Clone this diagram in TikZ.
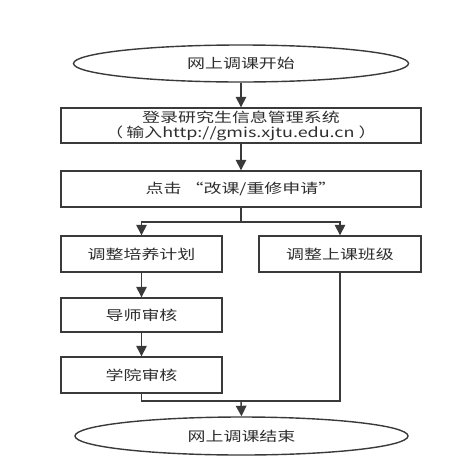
\documentclass[tikz,border=0pt]{standalone}
\usepackage{fontspec}
\setmainfont[FakeStretch=1.33]{Noto Sans CJK SC}
\usetikzlibrary{shapes.geometric,arrows.meta}
\definecolor{ln}{HTML}{3A3A3A}
\definecolor{tx}{HTML}{2E2E2E}
\tikzset{
  base/.style={draw=ln, line width=1.4pt, text=tx, inner sep=0pt, font=\fontsize{13.5pt}{15pt}\selectfont, align=center},
  term/.style={base, ellipse},
  stepbox/.style={base, rectangle},
  conn/.style={draw=ln, line width=1.4pt},
  arr/.style={conn, -{Triangle[width=10.5pt,length=10.5pt]}},
}
\begin{document}
\begin{tikzpicture}[x=1pt,y=-1pt]
\useasboundingbox (0,0) rectangle (473,472);
\node[term, minimum width=335pt, minimum height=37pt] (start) at (241,63.5) {网上调课开始};
\node[stepbox, minimum width=360pt, minimum height=35pt] (login) at (241,125.5) {登录研究生信息管理系统\\（\hspace{3pt}输入http://gmis.xjtu.edu.cn ）};
\node[stepbox, minimum width=360pt, minimum height=36pt] (click) at (241,189) {点击 “改课/重修申请”};
\node[stepbox, minimum width=161pt, minimum height=36pt] (plan) at (141.5,254) {调整培养计划};
\node[stepbox, minimum width=162pt, minimum height=36pt] (cls) at (340,254) {调整上课班级};
\node[stepbox, minimum width=161pt, minimum height=34pt] (tutor) at (141.5,315) {导师审核};
\node[stepbox, minimum width=161pt, minimum height=36pt] (school) at (141.5,375) {学院审核};
\node[term, minimum width=333pt, minimum height=38pt] (end) at (241.5,436) {网上调课结束};
\coordinate (split) at (241,222);
\coordinate (join) at (241,401);
\draw[arr] (start) -- (login);
\draw[arr] (login) -- (click);
\draw[conn] (click.south) -- (split);
\draw[arr] (split) -| (plan.north);
\draw[arr] (split) -| (cls.north);
\draw[arr] (plan) -- (tutor);
\draw[arr] (tutor) -- (school);
\draw[conn] (school.south) |- (join);
\draw[conn] (cls.south) |- (join);
\draw[arr] (join) -- (end.north);
\end{tikzpicture}
\end{document}
